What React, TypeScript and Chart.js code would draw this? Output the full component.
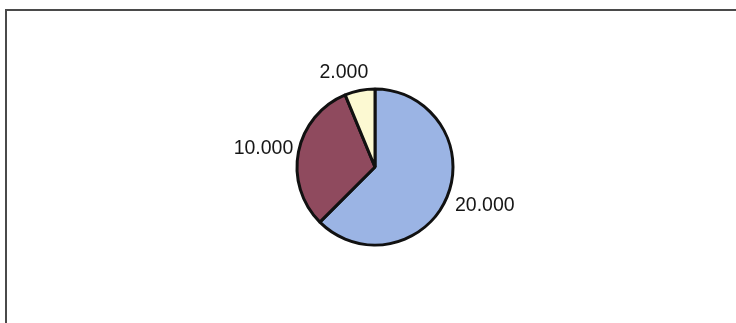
import React, { useEffect, useRef } from "react";
import { Chart, registerables } from "chart.js";

Chart.register(...registerables);

const categories = ["A", "B", "C"];
const values = [20000, 10000, 2000];
const valueLabels = ["20.000", "10.000", "2.000"];
const sliceColors = ["#9bb4e4", "#8f4a5e", "#fcf9d2"];
const labelNudges = [
  [0, 2],
  [5, 0],
  [-9, 0],
];

const framePlugin = {
  id: "frame",
  beforeDraw(chart: any) {
    const ctx = chart.ctx;
    ctx.save();
    ctx.fillStyle = "#ffffff";
    ctx.fillRect(0, 0, chart.width, chart.height);
    ctx.strokeStyle = "#4a4a4a";
    ctx.lineWidth = 2;
    ctx.beginPath();
    ctx.moveTo(5, 10);
    ctx.lineTo(chart.width, 10);
    ctx.moveTo(6, 10);
    ctx.lineTo(6, chart.height);
    ctx.stroke();
    ctx.restore();
  },
};

const labelPlugin = {
  id: "outLabels",
  afterDatasetsDraw(chart: any) {
    const ctx = chart.ctx;
    const meta = chart.getDatasetMeta(0);
    ctx.save();
    ctx.font = "19.5px 'Liberation Sans', Arial, sans-serif";
    ctx.fillStyle = "#161616";
    ctx.textAlign = "center";
    ctx.textBaseline = "middle";
    meta.data.forEach((arc: any, i: number) => {
      const p = arc.getProps(["x", "y", "startAngle", "endAngle", "outerRadius"], true);
      const mid = (p.startAngle + p.endAngle) / 2;
      const ux = Math.cos(mid);
      const uy = Math.sin(mid);
      const r = p.outerRadius + 11;
      const text = valueLabels[i];
      const w = ctx.measureText(text).width;
      const h = 15;
      const cx = p.x + ux * r + (ux * w) / 2 + labelNudges[i][0];
      const cy = p.y + uy * r + (uy * h) / 2 + labelNudges[i][1];
      ctx.fillText(text, cx, cy);
    });
    ctx.restore();
  },
};

export default function App() {
  const canvasRef = useRef<HTMLCanvasElement | null>(null);

  useEffect(() => {
    if (!canvasRef.current) return;
    const chart = new Chart(canvasRef.current, {
      type: "pie",
      data: {
        labels: categories,
        datasets: [
          {
            data: values,
            backgroundColor: sliceColors,
            borderColor: "#111111",
            borderWidth: 3,
          },
        ],
      },
      options: {
        animation: false,
        responsive: false,
        maintainAspectRatio: false,
        radius: 78,
        layout: { padding: { left: 14, right: 0, top: 11, bottom: 0 } },
        plugins: {
          legend: { display: false },
          tooltip: { enabled: false },
        },
      } as any,
      plugins: [framePlugin, labelPlugin],
    });
    return () => chart.destroy();
  }, []);

  return (
    <div style={{ position: "fixed", left: 0, top: 0, width: 736, height: 323, background: "#fff" }}>
      <canvas ref={canvasRef} width={736} height={323} style={{ display: "block" }} />
    </div>
  );
}
